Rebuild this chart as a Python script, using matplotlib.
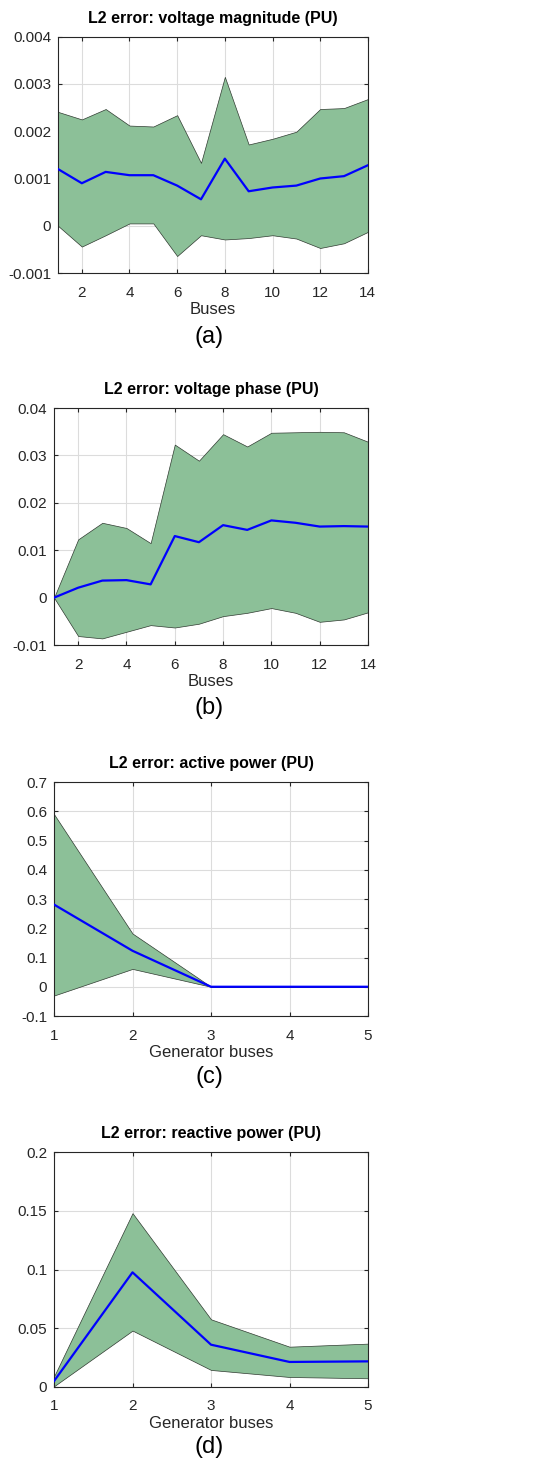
import matplotlib
matplotlib.use("Agg")
import matplotlib.pyplot as plt
import numpy as np

plt.rcParams['font.family'] = ['Liberation Sans', 'DejaVu Sans']

# (a) voltage magnitude
buses = np.arange(1, 15)
vm_mean = [0.00120, 0.00090, 0.00114, 0.00107, 0.00107, 0.00085, 0.00056,
           0.00142, 0.00073, 0.00081, 0.00085, 0.00100, 0.00105, 0.00128]
vm_upper = [0.00241, 0.00225, 0.00247, 0.00212, 0.00210, 0.00234, 0.00133,
            0.00315, 0.00172, 0.00184, 0.00199, 0.00247, 0.00249, 0.00268]
vm_lower = [0.00000, -0.00044, -0.00020, 0.00005, 0.00005, -0.00064, -0.00020,
            -0.00029, -0.00026, -0.00020, -0.00027, -0.00047, -0.00037, -0.00013]

# (b) voltage phase
va_mean = [0.0, 0.0021, 0.0036, 0.0037, 0.0028, 0.0130, 0.0117,
           0.0153, 0.0143, 0.0163, 0.0158, 0.0150, 0.0151, 0.0150]
va_upper = [0.0, 0.0123, 0.0158, 0.0147, 0.0115, 0.0323, 0.0289,
            0.0345, 0.0319, 0.0348, 0.0349, 0.0350, 0.0349, 0.0329]
va_lower = [0.0, -0.0081, -0.0086, -0.0072, -0.0058, -0.0063, -0.0055,
            -0.0039, -0.0032, -0.0022, -0.0032, -0.0051, -0.0046, -0.0031]

# (c) active power
gens = np.arange(1, 6)
p_mean = [0.281, 0.123, 0.0, 0.0, 0.0]
p_upper = [0.59, 0.182, 0.0, 0.0, 0.0]
p_lower = [-0.03, 0.061, 0.0, 0.0, 0.0]

# (d) reactive power
q_mean = [0.005, 0.0976, 0.036, 0.0213, 0.0218]
q_upper = [0.009, 0.148, 0.0576, 0.0343, 0.0369]
q_lower = [0.0006, 0.048, 0.0145, 0.0085, 0.0074]

panels = [
    (buses, vm_mean, vm_upper, vm_lower, 'L2 error: voltage magnitude (PU)', 'Buses',
     (-0.001, 0.004), np.arange(-0.001, 0.0041, 0.001), ['-0.001', '0', '0.001', '0.002', '0.003', '0.004'],
     np.arange(2, 15, 2), '(a)', [0.108, 0.814, 0.577, 0.161], 337),
    (buses, va_mean, va_upper, va_lower, 'L2 error: voltage phase (PU)', 'Buses',
     (-0.01, 0.04), np.arange(-0.01, 0.041, 0.01), ['-0.01', '0', '0.01', '0.02', '0.03', '0.04'],
     np.arange(2, 15, 2), '(b)', [0.1006, 0.5606, 0.5847, 0.1614], 708),
    (gens, p_mean, p_upper, p_lower, 'L2 error: active power (PU)', 'Generator buses',
     (-0.1, 0.7), np.arange(-0.1, 0.71, 0.1), ['-0.1', '0', '0.1', '0.2', '0.3', '0.4', '0.5', '0.6', '0.7'],
     gens, '(c)', [0.1006, 0.3079, 0.5847, 0.1594], 1077),
    (gens, q_mean, q_upper, q_lower, 'L2 error: reactive power (PU)', 'Generator buses',
     (0, 0.2), np.arange(0, 0.21, 0.05), ['0', '0.05', '0.1', '0.15', '0.2'],
     gens, '(d)', [0.1006, 0.0552, 0.5847, 0.160], 1447),
]

fig = plt.figure(figsize=(5.37, 14.68), dpi=100)

for x, mean, upper, lower, title, xlabel, ylim, yticks, ylabels, xticks, tag, rect, tag_y in panels:
    ax = fig.add_axes(rect)
    ax.fill_between(x, lower, upper, facecolor='#8cc098', edgecolor='#2f3a30', linewidth=0.5, zorder=2)
    ax.plot(x, mean, color='#0000ff', linewidth=1.6, zorder=3)
    ax.set_xlim(x[0], x[-1])
    ax.set_ylim(*ylim)
    ax.set_xticks(xticks)
    ax.set_yticks(yticks)
    ax.set_yticklabels(ylabels)
    ax.grid(True, color='#dcdcdc', linewidth=0.8, zorder=0)
    ax.set_axisbelow(True)
    ax.tick_params(direction='in', top=True, right=True, labelsize=11, length=3,
                   colors='#262626')
    ax.tick_params(axis='x', pad=9)
    ax.tick_params(axis='y', pad=5)
    for s in ax.spines.values():
        s.set_color('#262626')
        s.set_linewidth(0.8)
    ax.set_title(title, fontsize=11.5, fontweight='bold', pad=10)
    ax.set_xlabel(xlabel, fontsize=12, labelpad=2, color='#262626')
    fig.text(0.39, 1 - tag_y / 1468, tag, fontsize=17, ha='center', va='center')

fig.savefig('out.png', dpi=100, facecolor='white')
